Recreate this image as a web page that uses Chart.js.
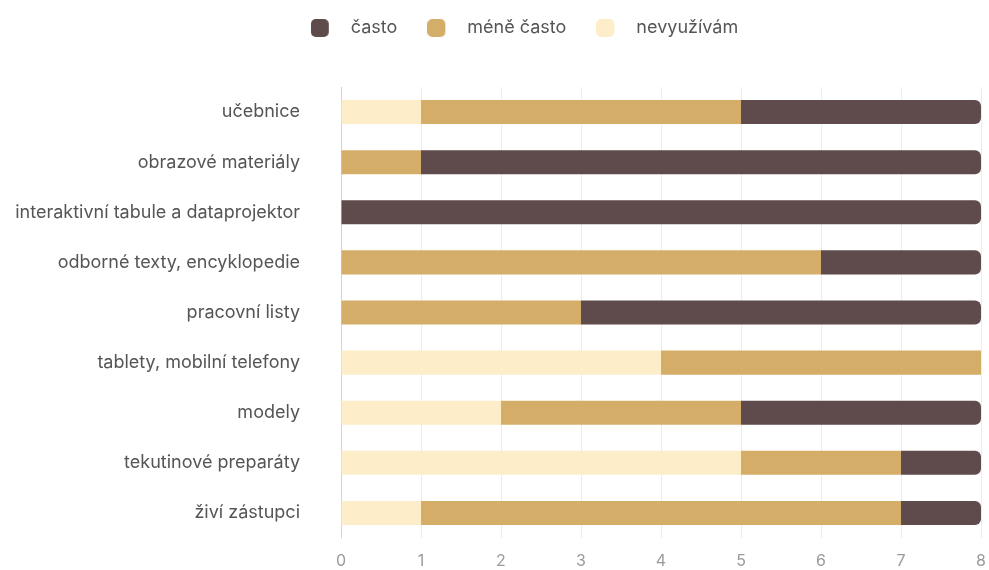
<!DOCTYPE html>
<html>
<head>
<meta charset="utf-8">
<script src="https://cdn.jsdelivr.net/npm/chart.js@4"></script>
<style>
  html, body { margin: 0; padding: 0; background: #fff; overflow: hidden; }
</style>
</head>
<body>
<canvas id="usageChart" width="989" height="570"></canvas>
<script>
const categories = [
    "učebnice",
    "obrazové materiály",
    "interaktivní tabule a dataprojektor",
    "odborné texty, encyklopedie",
    "pracovní listy",
    "tablety, mobilní telefony",
    "modely",
    "tekutinové preparáty",
    "živí zástupci"
];
const nevyuzivam = [1, 0, 0, 0, 0, 4, 2, 5, 1];
const meneCasto = [4, 1, 0, 6, 3, 4, 3, 2, 6];
const casto = [3, 7, 8, 2, 5, 0, 3, 1, 1];
const xTicks = [0, 1, 2, 3, 4, 5, 6, 7, 8];

const colors = ['#fdedc8', '#d4ae68', '#5f4b4b'];

Chart.defaults.font.family = 'Inter, "Noto Sans", sans-serif';

// legend marker: rounded square with empty space on its right
function legendMarker(color) {
    const c = document.createElement('canvas');
    c.width = 31;
    c.height = 18;
    const g = c.getContext('2d');
    g.fillStyle = color;
    g.beginPath();
    g.roundRect(0, 0, 18, 18, 5);
    g.fill();
    return c;
}
const markers = colors.map(legendMarker);

document.addEventListener('DOMContentLoaded', function() {
    const ctx = document.getElementById('usageChart').getContext('2d');
    new Chart(ctx, {
        type: 'bar',
        data: {
            labels: categories,
            datasets: [{
                label: "nevyužívám",
                data: nevyuzivam,
                backgroundColor: colors[0],
                borderRadius: 0,
            }, {
                label: "méně často",
                data: meneCasto,
                backgroundColor: colors[1],
                borderRadius: 0,
            }, {
                label: "často",
                data: casto,
                backgroundColor: colors[2],
                borderRadius: { topRight: 6, bottomRight: 6 },
                borderSkipped: false,
            }],
        },
        options: {
            indexAxis: 'y',
            responsive: false,
            animation: false,
            layout: { padding: { left: 8, right: 8, top: -11, bottom: 0 } },
            datasets: {
                bar: { barPercentage: 0.6, categoryPercentage: 0.8 }
            },
            scales: {
                x: {
                    stacked: true,
                    min: 0,
                    max: 8,
                    afterBuildTicks: function(axis) {
                        axis.ticks = xTicks.map(function(v) { return { value: v }; });
                    },
                    afterFit: function(axis) {
                        axis.height = 32;
                        axis.paddingLeft = 0;
                        axis.paddingRight = 0;
                    },
                    border: { display: false },
                    grid: {
                        color: function(c) { return c.tick && c.tick.value === 0 ? '#cfd3dc' : '#ececec'; },
                        drawTicks: false,
                    },
                    ticks: { color: '#9a9a9a', font: { size: 16 }, padding: 14 },
                },
                y: {
                    stacked: true,
                    border: { display: false },
                    grid: { display: false, drawTicks: false },
                    ticks: { color: '#555', font: { size: 18 }, padding: 41 },
                    afterFit: function(axis) {
                        axis.width = 333;
                        axis.paddingTop = 0;
                        axis.paddingBottom = 0;
                    },
                },
            },
            plugins: {
                legend: {
                    reverse: true,
                    labels: {
                        usePointStyle: true,
                        pointStyleWidth: 31,
                        boxHeight: 18,
                        padding: 30,
                        color: '#555',
                        font: { size: 18 },
                        generateLabels: function(chart) {
                            const items = Chart.defaults.plugins.legend.labels.generateLabels(chart);
                            items.forEach(function(it) { it.pointStyle = markers[it.datasetIndex]; });
                            return items;
                        },
                    },
                },
                tooltip: { enabled: false },
            },
        },
        plugins: [{
            id: 'legendSpacing',
            beforeInit: function(chart) {
                const fit = chart.legend.fit;
                chart.legend.fit = function() {
                    fit.bind(chart.legend)();
                    this.height += 40;
                };
            },
            afterLayout: function(chart) {
                // nudge the legend a little to the right
                chart.legend.left += 30;
                chart.legend.right += 30;
            }
        }]
    });
});
</script>
</body>
</html>
